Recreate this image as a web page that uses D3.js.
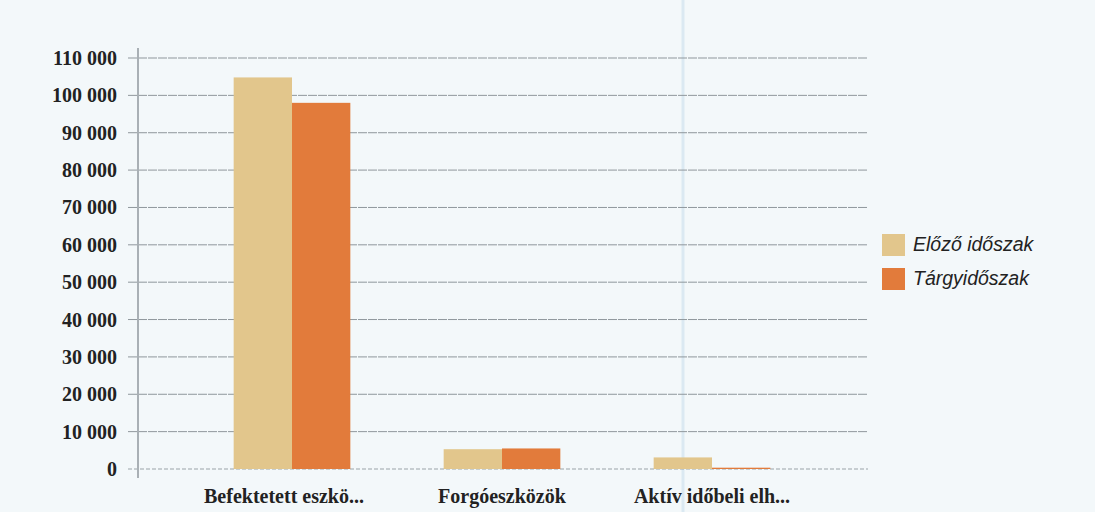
<!DOCTYPE html>
<html><head><meta charset="utf-8">
<script src="https://cdn.jsdelivr.net/npm/d3@7"></script>
<style>
html,body{margin:0;padding:0;background:#f3f8fa;}
svg{display:block;}
</style></head>
<body>
<svg id="chart" width="1095" height="512"></svg>
<script>
const categories = ["Befektetett eszkö...", "Forgóeszközök", "Aktív időbeli elh..."];
const seriesNames = ["Előző időszak", "Tárgyidőszak"];
const previousValues = [104800, 5300, 3100];
const currentValues = [98000, 5500, 350];
const yTicks = [0,10000,20000,30000,40000,50000,60000,70000,80000,90000,100000,110000];
const colors = ["#e2c68c", "#e27b3b"];

const svg = d3.select("#chart");
const axisX = 138, gridRight = 868;
const y = d3.scaleLinear().domain([0,110000]).range([469,58]);
const x = d3.scaleBand().domain(categories).range([187,817]).paddingInner(0).paddingOuter(0);
const inner = d3.scaleBand().domain(seriesNames).range([0,x.bandwidth()]).paddingInner(0).paddingOuter(0.8);
const fmt = v => d3.format(",")(v).replace(/,/g," ");

// scan artifact line
svg.append("line").attr("x1",683).attr("x2",683).attr("y1",0).attr("y2",512)
  .attr("stroke","#dbe9f2").attr("stroke-width",3);

// gridlines
svg.append("g").selectAll("line").data(yTicks).join("line")
  .attr("x1",axisX-10).attr("x2",gridRight)
  .attr("y1",d=>y(d)).attr("y2",d=>y(d))
  .attr("stroke",d=>d===0?"#9aa3a8":"#8f979c")
  .attr("stroke-width",1)
  .attr("stroke-dasharray",d=>d===0?"4,2":"9,1");

// y axis line
svg.append("line").attr("x1",axisX).attr("x2",axisX).attr("y1",48).attr("y2",478)
  .attr("stroke","#a9b0b5").attr("stroke-width",2);

// y tick labels
svg.append("g").selectAll("text").data(yTicks).join("text")
  .attr("x",117).attr("y",d=>y(d)).attr("dy","0.35em")
  .attr("text-anchor","end")
  .attr("font-family","Liberation Serif, serif").attr("font-weight","bold")
  .attr("font-size",20).attr("fill","#222")
  .text(fmt);

// bars
const data = categories.map((c,i)=>({cat:c, vals:[previousValues[i], currentValues[i]]}));
const groups = svg.append("g").selectAll("g").data(data).join("g")
  .attr("transform",d=>`translate(${x(d.cat)},0)`);
groups.selectAll("rect").data(d=>d.vals.map((v,j)=>({v,s:seriesNames[j],j}))).join("rect")
  .attr("x",d=>inner(d.s)).attr("width",inner.bandwidth())
  .attr("y",d=>y(d.v)).attr("height",d=>y(0)-y(d.v))
  .attr("fill",d=>colors[d.j]);

// x labels
svg.append("g").selectAll("text").data(categories).join("text")
  .attr("x",(d,i)=>x(d)+x.bandwidth()/2 + (i===0?-8:0)).attr("y",503)
  .attr("text-anchor","middle")
  .attr("font-family","Liberation Serif, serif").attr("font-weight","bold")
  .attr("font-size",20).attr("fill","#222")
  .text(d=>d);

// legend
const lg = svg.append("g").attr("transform","translate(882,234)");
seriesNames.forEach((s,i)=>{
  lg.append("rect").attr("x",0).attr("y",i*34).attr("width",23).attr("height",22).attr("fill",colors[i]);
  lg.append("text").attr("x",31).attr("y",i*34+10).attr("dy","0.35em")
    .attr("font-family","Liberation Sans, Arial, sans-serif").attr("font-style","italic")
    .attr("font-size",19.5).attr("fill","#222").text(s);
});
</script>
</body></html>
